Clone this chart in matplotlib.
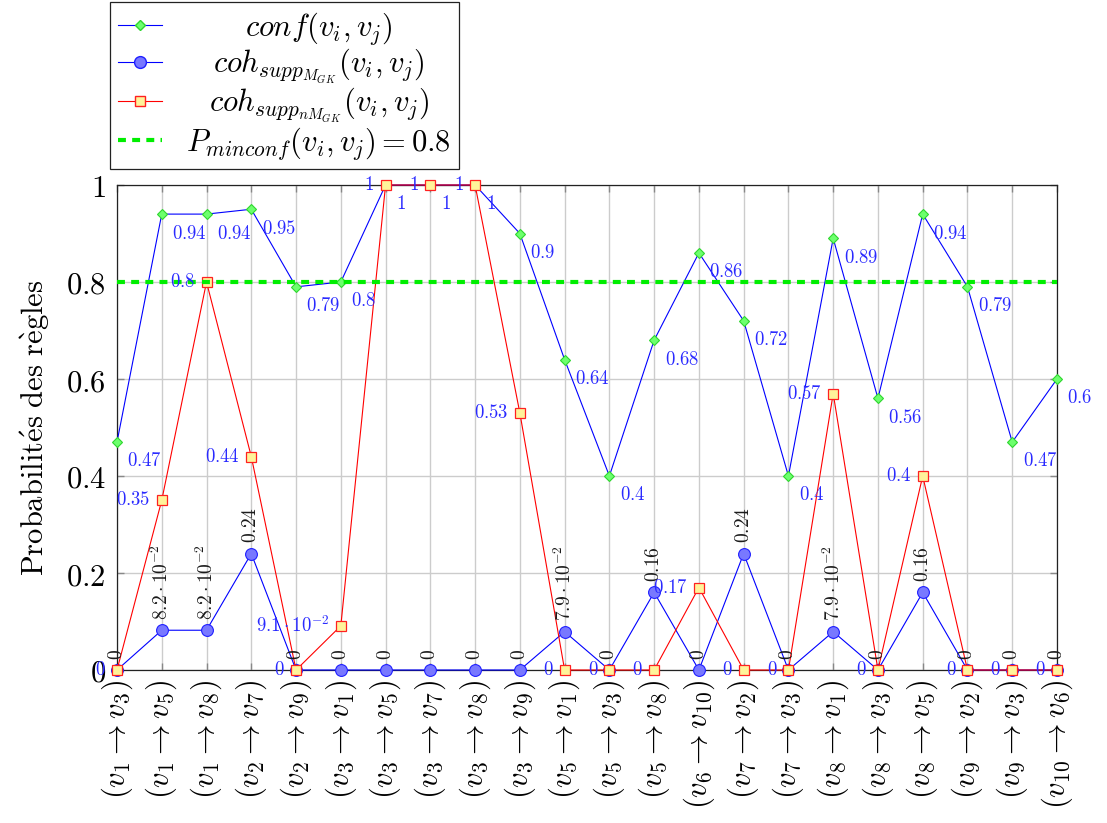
import matplotlib
matplotlib.use("Agg")
import matplotlib.pyplot as plt
from matplotlib.lines import Line2D

plt.rcParams['mathtext.fontset'] = 'cm'
plt.rcParams['font.family'] = ['DejaVu Serif']

# ---------------- data ----------------
categories = [
    (1, 3), (1, 5), (1, 8), (2, 7), (2, 9), (3, 1), (3, 5), (3, 7), (3, 8), (3, 9),
    (5, 1), (5, 3), (5, 8), (6, 10), (7, 2), (7, 3), (8, 1), (8, 3), (8, 5), (9, 2),
    (9, 3), (10, 6),
]
conf = [0.47, 0.94, 0.94, 0.95, 0.79, 0.8, 1, 1, 1, 0.9, 0.64, 0.4, 0.68, 0.86,
        0.72, 0.4, 0.89, 0.56, 0.94, 0.79, 0.47, 0.6]
coh_M = [0, 0.082, 0.082, 0.24, 0, 0, 0, 0, 0, 0, 0.079, 0, 0.16, 0, 0.24, 0,
         0.079, 0, 0.16, 0, 0, 0]
coh_nM = [0, 0.35, 0.8, 0.44, 0, 0.091, 1, 1, 1, 0.53, 0, 0, 0, 0.17, 0, 0, 0.57,
          0, 0.4, 0, 0, 0]
threshold = 0.8
yticks = [0, 0.2, 0.4, 0.6, 0.8, 1]
ytick_labels = ['0', '0.2', '0.4', '0.6', '0.8', '1']

legend_labels = [r'$conf(v_i, v_j)$',
                 r'$coh_{supp_{M_{GK}}}(v_i, v_j)$',
                 r'$coh_{supp_{nM_{GK}}}(v_i, v_j)$',
                 r'$P_{minconf}(v_i, v_j) = 0.8$']
ylabel = r'$\mathrm{Probabilit\acute{e}s\ des\ r\grave{e}gles}$'


def fmt(v):
    if v == 0:
        return r'$0$'
    if v == 1:
        return r'$1$'
    if v < 0.1:
        return r'$%.1f\cdot 10^{-2}$' % (v * 100)
    return r'$%g$' % v


# ---------------- figure ----------------
W, H = 1107, 823
fig = plt.figure(figsize=(W / 100, H / 100), dpi=100)
ax = fig.add_axes([117 / W, 1 - 670 / H, (1057 - 117) / W, (670 - 185) / H])

x = list(range(len(categories)))
BLUE = '#0000ff'
TXT_BLUE = '#2a2aff'

ax.plot(x, conf, color=BLUE, lw=0.8, marker='D', ms=5.5,
        mfc='#6dff6d', mec='#2ed62e', mew=0.8, zorder=4, clip_on=False)
ax.plot(x, coh_M, color=BLUE, lw=0.8, marker='o', ms=8.5,
        mfc='#7878ff', mec='#1f1fff', mew=0.8, zorder=5, clip_on=False)
ax.plot(x, coh_nM, color='#ff0000', lw=0.8, marker='s', ms=7.5,
        mfc='#fff39a', mec='#ff2020', mew=0.9, zorder=6, clip_on=False)
ax.axhline(threshold, color='#00ee00', lw=3, ls=(0, (1.9, 1.5)), zorder=7)

# value labels
for xi, v in zip(x, conf):
    ax.annotate(fmt(v), (xi, v), xytext=(7.5, -7.5), textcoords='offset points',
                ha='left', va='top', fontsize=13.5, color=TXT_BLUE, zorder=8,
                annotation_clip=False)
for xi, v in zip(x, coh_M):
    ax.annotate(fmt(v), (xi, v), xytext=(0, 7.5), textcoords='offset points',
                ha='center', va='bottom', rotation=90, fontsize=14,
                color='#1a1a1a', zorder=8, annotation_clip=False)
for xi, v in zip(x, coh_nM):
    ax.annotate(fmt(v), (xi, v), xytext=(-8, 0), textcoords='offset points',
                ha='right', va='center', fontsize=13.5, color=TXT_BLUE, zorder=8,
                annotation_clip=False)

# axes
ax.set_xlim(0, len(categories) - 1)
ax.set_ylim(0, 1)
ax.set_xticks(x)
ax.set_xticklabels([r'$(v_{%d} \rightarrow v_{%d})$' % c for c in categories],
                   rotation=90, fontsize=22)
ax.set_yticks(yticks)
ax.set_yticklabels(['$%s$' % t for t in ytick_labels], fontsize=22)
ax.grid(True, color='#cccccc', lw=1.0, zorder=0)
ax.set_axisbelow(True)
ax.tick_params(axis='both', direction='in', length=5, color='#888888',
               top=True, right=True, width=1.0)
ax.tick_params(axis='y', pad=8)
ax.tick_params(axis='x', pad=7)
for s in ax.spines.values():
    s.set_linewidth(0.9)
    s.set_color('#222222')
ax.set_ylabel(ylabel, fontsize=22, labelpad=10)

# legend
handles = [
    Line2D([], [], color=BLUE, lw=0.8, marker='D', ms=5.5, mfc='#6dff6d', mec='#2ed62e'),
    Line2D([], [], color=BLUE, lw=0.8, marker='o', ms=8.5, mfc='#7878ff', mec='#1f1fff'),
    Line2D([], [], color='#ff0000', lw=0.8, marker='s', ms=7.5, mfc='#fff39a', mec='#ff2020'),
    Line2D([], [], color='#00ee00', lw=3, ls=(0, (1.9, 1.5))),
]
leg = fig.legend(handles, legend_labels, loc='upper left',
                 bbox_to_anchor=(110 / W, 1 - 2 / H), bbox_transform=fig.transFigure,
                 fontsize=22, frameon=True, fancybox=False, edgecolor='#222222',
                 framealpha=1, borderpad=0.25, labelspacing=0.0, handlelength=1.45,
                 handletextpad=0.8, borderaxespad=0)
leg.get_frame().set_linewidth(0.9)

# centre the legend texts within their column (as in the reference)
fig.canvas.draw()
renderer = fig.canvas.get_renderer()
widths = [t.get_window_extent(renderer).width for t in leg.get_texts()]
wmax = max(widths)
for t, w in zip(leg.get_texts(), widths):
    t.set_position(((wmax - w) / 2.0, 0))

fig.savefig('out.png', dpi=100)
